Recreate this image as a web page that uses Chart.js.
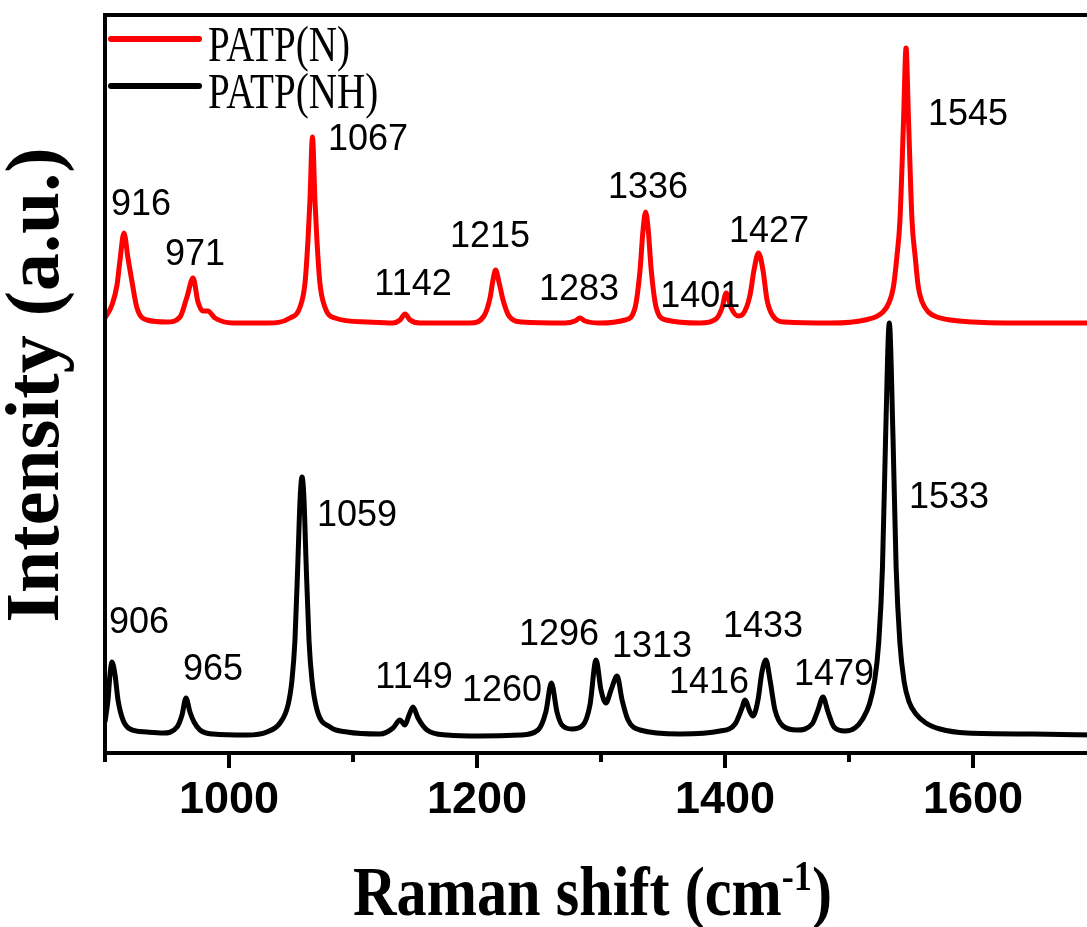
<!DOCTYPE html>
<html><head><meta charset="utf-8">
<script src="https://cdn.jsdelivr.net/npm/chart.js@4.4.0/dist/chart.umd.min.js"></script>
<style>
html,body{margin:0;padding:0;overflow:hidden;background:#fff;width:1087px;height:927px}
#wrap{position:absolute;left:0;top:0;width:1100px;height:927px}
</style>
</head><body><div id="wrap"><canvas id="c" width="1100" height="927"></canvas></div>
<script>
// ---------- DATA ----------
const seriesNames = ['PATP(N)', 'PATP(NH)'];
const seriesColors = ['#ff0000', '#000000'];

// PATP(N): Raman shift (cm-1) and intensity (a.u.)
const shiftN = [900.0,905.6,909.7,912.1,915.3,918.5,921.8,925.8,933.9,950.0,960.5,966.1,971.0,975.0,979.0,983.0,988.7,1003.2,1030.6,1049.2,1057.3,1061.3,1063.7,1065.3,1067.3,1069.3,1070.9,1073.3,1077.3,1085.4,1111.3,1132.3,1137.9,1142.0,1146.0,1154.0,1194.4,1205.6,1210.5,1212.9,1215.0,1217.7,1221.0,1225.8,1236.3,1271.0,1279.0,1283.0,1287.1,1299.2,1319.4,1327.4,1331.5,1333.9,1336.0,1338.1,1340.5,1344.6,1352.6,1379.8,1392.7,1397.6,1401.0,1405.0,1410.5,1414.5,1420.2,1423.4,1427.0,1430.6,1433.9,1438.7,1448.4,1484.7,1512.9,1527.4,1532.5,1535.8,1538.6,1541.1,1544.0,1546.0,1548.0,1550.8,1553.4,1555.9,1559.0,1564.0,1571.0,1582.0,1600.0,1625.0,1700.0];
const intensityN = [434,447,467,492,519,494,470,444,432,430,435,455,474,450,441,441,434,429,429,434,445,469,512,552,615,552,512,469,445,434,430,429,432,438,432,429,429,436,454,472,482,470,452,436,430,429,431,434,431,429,432,444,482,522,540,522,482,444,432,429,433,444,459,444,436,438,457,482,499,482,452,436,430,429,432,440,450,465,495,532,632,704,632,532,495,465,450,440,435,432,430,429,429];

// PATP(NH)
const shiftNH = [900.0,902.4,904.0,905.6,908.1,910.5,914.5,920.2,933.9,946.8,958.1,962.1,965.3,968.5,971.8,976.6,987.1,1014.5,1030.6,1041.1,1047.6,1050.8,1053.2,1055.6,1057.3,1058.9,1060.5,1062.1,1064.5,1066.9,1071.0,1081.5,1095.2,1121.8,1132.3,1137.9,1141.9,1145.2,1148.4,1152.4,1159.7,1175.8,1202.4,1234.7,1249.2,1255.5,1260.0,1264.5,1268.5,1276.6,1285.5,1291.1,1296.0,1300.0,1304.0,1308.1,1313.0,1317.0,1321.8,1331.5,1363.7,1396.0,1408.1,1413.7,1416.0,1420.2,1422.6,1426.6,1429.8,1433.0,1436.3,1440.3,1446.8,1458.1,1470.2,1475.0,1479.0,1483.1,1487.9,1496.8,1504.8,1511.0,1516.5,1520.5,1524.0,1527.0,1529.6,1532.5,1535.4,1538.0,1541.0,1544.5,1548.5,1554.0,1562.0,1573.4,1595.2,1648.4,1700.0];
const intensityNH = [30,52,77,90,77,52,32,23,20,19,25,37,54,40,30,22,18,17,20,29,47,72,112,192,252,275,252,192,112,72,42,25,20,18,24,32,27,37,45,34,22,17,16,17,22,40,69,40,27,23,27,47,92,62,49,62,76,52,32,22,18,21,28,44,52,40,36,52,80,92,72,42,26,22,28,42,55,40,25,21,24,33,48,70,110,185,319,429,319,185,110,70,50,38,29,23,19,18,17];

// Peak labels (cm-1)
const peaksN = [916, 971, 1067, 1142, 1215, 1283, 1336, 1401, 1427, 1545];
const peaksNH = [906, 965, 1059, 1149, 1260, 1296, 1313, 1416, 1433, 1479, 1533];

// Axis ticks
const xTickValues = [1000, 1200, 1400, 1600];
const xMinorValues = [900, 1100, 1300, 1500, 1700];
const xRange = [900, 1700];
const yRange = [0, 737];

// ---------- LAYOUT (label anchor points in data units, separate from data) ----------
const labelAnchorsN = [[929,547],[972.6,497],[1112.1,612],[1148.4,467],[1210.5,515],[1282.3,462],[1337.9,564],[1380,455],[1435.5,520],[1596,637]];
const labelAnchorsNH = [[927.4,129],[987.1,82],[1103.2,236],[1149.2,74],[1220.2,61],[1266.1,117],[1341.1,105],[1387.1,69],[1430.6,125],[1487.9,77],[1580.6,254]];

const toPoints = (xs, ys) => xs.map((x, i) => ({x: x, y: ys[i]}));

const framePlugin = {
  id: 'frame',
  afterDraw(chart) {
    const ctx = chart.ctx, a = chart.chartArea, xs = chart.scales.x;
    ctx.save();
    ctx.strokeStyle = '#000';
    ctx.lineWidth = 4;
    ctx.lineCap = 'butt';
    const yb = a.bottom + 1;
    ctx.beginPath();
    ctx.moveTo(a.left, yb); ctx.lineTo(a.right, yb);
    ctx.moveTo(a.left, a.top); ctx.lineTo(a.right, a.top);
    ctx.moveTo(a.left, a.top - 2); ctx.lineTo(a.left, yb + 2);
    ctx.moveTo(a.right, a.top - 2); ctx.lineTo(a.right, yb + 2);
    ctx.stroke();
    ctx.beginPath();
    xTickValues.forEach(v => { const p = xs.getPixelForValue(v); ctx.moveTo(p, yb); ctx.lineTo(p, yb + 15); });
    xMinorValues.forEach(v => { const p = xs.getPixelForValue(v); ctx.moveTo(p, yb); ctx.lineTo(p, yb + 9); });
    ctx.stroke();
    ctx.restore();
  }
};

const labelPlugin = {
  id: 'peakLabels',
  afterDatasetsDraw(chart) {
    const ctx = chart.ctx, xs = chart.scales.x, ys = chart.scales.y;
    ctx.save();
    ctx.fillStyle = '#000';
    ctx.font = '36px "Liberation Sans", Arial, sans-serif';
    ctx.textAlign = 'center';
    ctx.textBaseline = 'middle';
    const draw = (peaks, anchors) => peaks.forEach((p, i) => {
      ctx.fillText(String(p), xs.getPixelForValue(anchors[i][0]), ys.getPixelForValue(anchors[i][1]));
    });
    draw(peaksN, labelAnchorsN);
    draw(peaksNH, labelAnchorsNH);
    ctx.restore();
  }
};

const legendPlugin = {
  id: 'innerLegend',
  afterDraw(chart) {
    const ctx = chart.ctx, a = chart.chartArea;
    ctx.save();
    ctx.font = '50px "Liberation Serif", "Times New Roman", serif';
    const w0 = ctx.measureText(seriesNames[0]).width;
    const sx = 142 / w0;
    const rows = [a.top + 24, a.top + 71];
    seriesNames.forEach((name, i) => {
      const y = rows[i];
      ctx.strokeStyle = seriesColors[i];
      ctx.lineWidth = 6;
      ctx.lineCap = 'round';
      ctx.beginPath(); ctx.moveTo(a.left + 6, y); ctx.lineTo(a.left + 94, y); ctx.stroke();
      ctx.fillStyle = '#000';
      ctx.textBaseline = 'alphabetic';
      ctx.textAlign = 'left';
      ctx.save();
      ctx.translate(a.left + 103, y + 22);
      ctx.scale(sx, 1);
      ctx.fillText(name, 0, 0);
      ctx.restore();
    });
    ctx.restore();
  }
};

const titlePlugin = {
  id: 'axisTitles',
  afterDraw(chart) {
    const ctx = chart.ctx;
    ctx.save();
    ctx.fillStyle = '#000';
    // Y title
    ctx.font = 'bold 76px "Liberation Serif", "Times New Roman", serif';
    ctx.textAlign = 'center';
    ctx.textBaseline = 'alphabetic';
    ctx.save();
    ctx.translate(58, 385);
    ctx.rotate(-Math.PI / 2);
    ctx.fillText('Intensity (a.u.)', 0, 0);
    ctx.restore();
    // X title with superscript
    const main = 'Raman shift (cm', sup = '-1', close = ')';
    ctx.textAlign = 'left';
    ctx.font = 'bold 70px "Liberation Serif", "Times New Roman", serif';
    const wMain = ctx.measureText(main).width, wClose = ctx.measureText(close).width;
    ctx.font = 'bold 42px "Liberation Serif", "Times New Roman", serif';
    const wSup = ctx.measureText(sup).width;
    const total = wMain + wSup + wClose;
    const sx = 479 / total;
    ctx.save();
    ctx.translate(353, 915);
    ctx.scale(sx, 1);
    ctx.font = 'bold 70px "Liberation Serif", "Times New Roman", serif';
    ctx.fillText(main, 0, 0);
    ctx.font = 'bold 42px "Liberation Serif", "Times New Roman", serif';
    ctx.fillText(sup, wMain, -25);
    ctx.font = 'bold 70px "Liberation Serif", "Times New Roman", serif';
    ctx.fillText(close, wMain + wSup, 0);
    ctx.restore();
    ctx.restore();
  }
};

new Chart(document.getElementById('c'), {
  type: 'line',
  data: {
    datasets: [
      { label: seriesNames[0], data: toPoints(shiftN, intensityN), borderColor: seriesColors[0], borderWidth: 5, pointRadius: 0, cubicInterpolationMode: 'monotone', fill: false },
      { label: seriesNames[1], data: toPoints(shiftNH, intensityNH), borderColor: seriesColors[1], borderWidth: 5, pointRadius: 0, cubicInterpolationMode: 'monotone', fill: false }
    ]
  },
  options: {
    responsive: false,
    devicePixelRatio: 1,
    animation: false,
    layout: { padding: { left: 105, top: 15, right: 3, bottom: 0 } },
    plugins: { legend: { display: false }, tooltip: { enabled: false } },
    scales: {
      x: {
        type: 'linear', min: xRange[0], max: xRange[1],
        grid: { display: false, drawTicks: false },
        border: { display: false },
        afterBuildTicks: s => { s.ticks = xTickValues.map(v => ({ value: v })); },
        afterFit: s => { s.height = 175; },
        ticks: { color: '#000', padding: 22, maxRotation: 0, callback: v => String(v), font: { family: '"Liberation Sans", Arial, sans-serif', size: 45, weight: 'bold' } }
      },
      y: { type: 'linear', display: false, min: yRange[0], max: yRange[1] }
    }
  },
  plugins: [framePlugin, labelPlugin, legendPlugin, titlePlugin]
});
</script>
</body></html>
